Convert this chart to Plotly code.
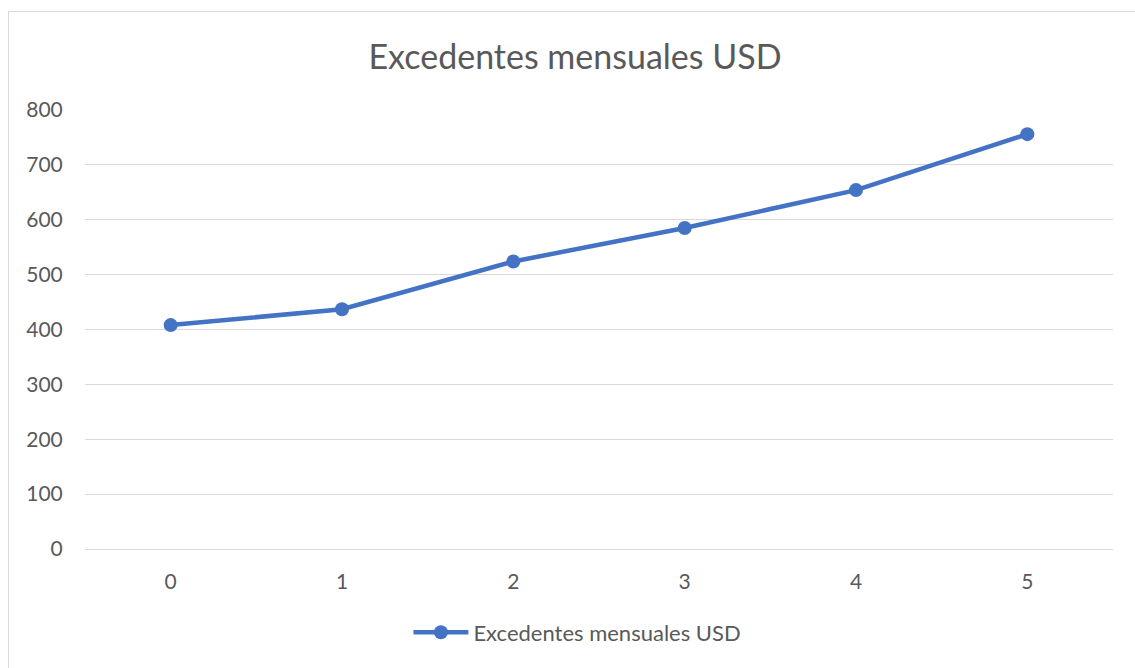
import plotly.graph_objects as go

categories = ["0", "1", "2", "3", "4", "5"]
values = [408, 437, 524, 585, 654, 756]
y_ticks = [0, 100, 200, 300, 400, 500, 600, 700, 800]
series_name = "Excedentes mensuales USD"
title_text = "Excedentes mensuales USD"

FONT = "Lato, 'Open Sans', sans-serif"
TXT = "#595959"

fig = go.Figure()
fig.add_trace(go.Scatter(
    x=categories, y=values, mode="lines+markers", name=series_name,
    line=dict(color="#4472C4", width=4.5),
    marker=dict(color="#4472C4", size=14),
))

fig.update_layout(
    width=1135, height=668,
    paper_bgcolor="white", plot_bgcolor="white",
    margin=dict(l=85, r=22, t=110, b=119),
    title=dict(text=title_text, x=575 / 1135, xanchor="center", xref="container",
               y=1 - 57 / 668, yref="container", yanchor="middle",
               font=dict(family=FONT, size=34, color=TXT)),
    font=dict(family=FONT, size=21, color=TXT),
    showlegend=True,
    legend=dict(orientation="h", x=0.479, xanchor="center", y=-0.19, yanchor="middle",
                font=dict(family=FONT, size=22, color=TXT), itemwidth=55),
    xaxis=dict(type="category", range=[-0.5, 5.5], showgrid=False, showline=False,
               ticks="outside", ticklen=14, tickcolor="rgba(0,0,0,0)",
               tickfont=dict(size=21, color=TXT), zeroline=False),
    yaxis=dict(range=[0, 800], tickvals=y_ticks, showgrid=True, gridcolor="#d9d9d9",
               gridwidth=1, zeroline=True, zerolinecolor="#d9d9d9", zerolinewidth=1,
               showline=False, ticks="outside",
               ticklen=17, tickcolor="rgba(0,0,0,0)",
               tickfont=dict(size=21, color=TXT)),
    shapes=[dict(type="rect", xref="paper", yref="paper",
                 x0=(8.5 - 85) / 1028, x1=(1140 - 85) / 1028,
                 y0=(549 - 680) / 439, y1=(549 - 11.5) / 439,
                 line=dict(color="#d9d9d9", width=1), fillcolor="rgba(0,0,0,0)",
                 layer="below")],
)

fig.write_html("out.html", config={"displayModeBar": False},
               post_script="document.body.style.margin='0';document.body.style.overflow='hidden';")
